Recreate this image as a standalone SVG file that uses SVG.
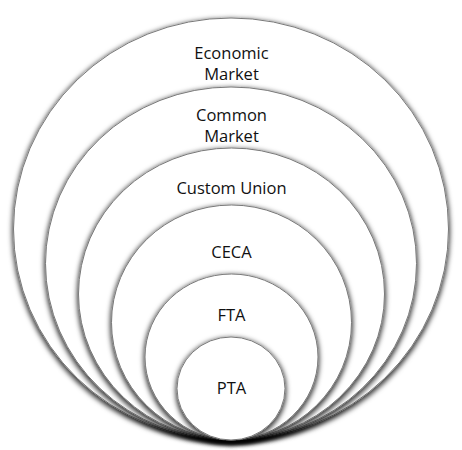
<svg xmlns="http://www.w3.org/2000/svg" width="462" height="450" viewBox="0 0 462 450">
  <style>
    .ring { fill: #ffffff; stroke: #7a7a7a; stroke-width: 1; filter: url(#shadow); }
    .label { font-family: "Open Sans", "Liberation Sans", sans-serif; font-size: 16.5px; fill: #111111; text-anchor: middle; }
  </style>
  <defs>
    <filter id="shadow" x="-10%" y="-10%" width="120%" height="125%">
      <feMorphology in="SourceAlpha" operator="dilate" radius="1.2" result="fat"/>
      <feGaussianBlur in="fat" stdDeviation="2.6" result="blur"/>
      <feOffset in="blur" dx="0" dy="1.5" result="off"/>
      <feFlood flood-color="#000000" flood-opacity="0.75" result="col"/>
      <feComposite in="col" in2="off" operator="in" result="sh"/>
      <feMerge>
        <feMergeNode in="sh"/>
        <feMergeNode in="SourceGraphic"/>
      </feMerge>
    </filter>
  </defs>
  <rect width="462" height="450" fill="#ffffff"/>
  <g id="economic-market">
    <ellipse class="ring" cx="231" cy="229" rx="217.5" ry="211"/>
    <text class="label" x="231.5" y="59">Economic</text>
    <text class="label" x="231.5" y="80">Market</text>
  </g>
  <g id="common-market">
    <ellipse class="ring" cx="231" cy="263.5" rx="185.5" ry="176.5"/>
    <text class="label" x="231.5" y="120.5">Common</text>
    <text class="label" x="231.5" y="141.5">Market</text>
  </g>
  <g id="custom-union">
    <ellipse class="ring" cx="231.5" cy="294" rx="153" ry="146"/>
    <text class="label" x="231.5" y="194">Custom Union</text>
  </g>
  <g id="ceca">
    <ellipse class="ring" cx="231.5" cy="322.5" rx="120" ry="117.5"/>
    <text class="label" x="231.5" y="258">CECA</text>
  </g>
  <g id="fta">
    <ellipse class="ring" cx="231.5" cy="357" rx="86.5" ry="83"/>
    <text class="label" x="231.5" y="321">FTA</text>
  </g>
  <g id="pta">
    <ellipse class="ring" cx="231" cy="388.5" rx="54" ry="51.5"/>
    <text class="label" x="231.5" y="394">PTA</text>
  </g>
  <g id="connectors"/>
</svg>
